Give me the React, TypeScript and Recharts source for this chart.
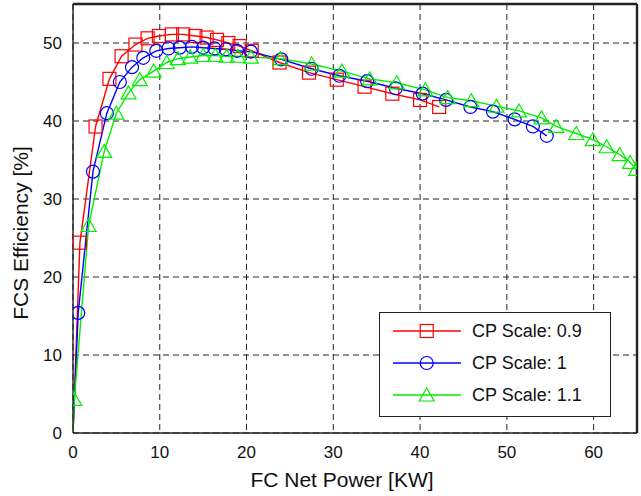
import React from 'react';
import { LineChart, Line, XAxis, YAxis, CartesianGrid, Legend, Label, ReferenceLine } from 'recharts';

const xTicks = [0, 10, 20, 30, 40, 50, 60];
const yTicks = [0, 10, 20, 30, 40, 50];
const xMax = 65;
const yMax = 55;

const cp09 = [
  { x: 0, y: 0 }, { x: 0.8, y: 24.4 }, { x: 2.6, y: 39.3 }, { x: 4.2, y: 45.4 }, { x: 5.6, y: 48.3 },
  { x: 7.2, y: 49.8 }, { x: 8.6, y: 50.6 }, { x: 9.9, y: 50.9 }, { x: 11.4, y: 51.1 }, { x: 12.7, y: 51.1 },
  { x: 14.1, y: 50.9 }, { x: 15.4, y: 50.7 }, { x: 16.6, y: 50.4 }, { x: 17.9, y: 50.0 }, { x: 19.2, y: 49.6 },
  { x: 20.6, y: 49.0 }, { x: 23.8, y: 47.5 }, { x: 27.2, y: 46.2 }, { x: 30.4, y: 45.3 }, { x: 33.6, y: 44.4 },
  { x: 36.8, y: 43.5 }, { x: 40.0, y: 42.7 }, { x: 42.2, y: 41.8 },
];

const cp10 = [
  { x: 0, y: 0 }, { x: 0.6, y: 15.4 }, { x: 2.3, y: 33.5 }, { x: 3.9, y: 41.0 }, { x: 5.4, y: 45.0 },
  { x: 6.8, y: 46.9 }, { x: 8.1, y: 48.1 }, { x: 9.6, y: 49.0 }, { x: 11.0, y: 49.3 }, { x: 12.3, y: 49.4 },
  { x: 13.7, y: 49.5 }, { x: 15.0, y: 49.4 }, { x: 16.3, y: 49.3 }, { x: 17.6, y: 49.2 }, { x: 18.9, y: 49.0 },
  { x: 20.5, y: 48.9 }, { x: 24.0, y: 47.9 }, { x: 27.5, y: 46.7 }, { x: 30.7, y: 45.8 }, { x: 33.9, y: 45.1 },
  { x: 37.2, y: 44.2 }, { x: 40.3, y: 43.5 }, { x: 43.0, y: 42.7 }, { x: 45.8, y: 41.8 }, { x: 48.4, y: 41.2 },
  { x: 50.9, y: 40.2 }, { x: 53.0, y: 39.3 }, { x: 54.6, y: 38.1 },
];

const cp11 = [
  { x: 0, y: 0 }, { x: 0.15, y: 4.3 }, { x: 1.8, y: 26.6 }, { x: 3.6, y: 36.1 }, { x: 5.0, y: 41.0 },
  { x: 6.4, y: 43.6 }, { x: 7.7, y: 45.3 }, { x: 9.3, y: 46.4 }, { x: 10.8, y: 47.5 }, { x: 12.1, y: 48.0 },
  { x: 13.5, y: 48.2 }, { x: 15.0, y: 48.4 }, { x: 16.4, y: 48.4 }, { x: 17.7, y: 48.3 }, { x: 19.0, y: 48.3 },
  { x: 20.5, y: 48.2 }, { x: 23.9, y: 48.0 }, { x: 27.5, y: 47.3 }, { x: 31.0, y: 46.4 }, { x: 34.2, y: 45.4 },
  { x: 37.3, y: 44.9 }, { x: 40.6, y: 44.0 }, { x: 43.2, y: 43.0 }, { x: 45.9, y: 42.6 }, { x: 48.8, y: 41.9 },
  { x: 51.4, y: 41.3 }, { x: 54.0, y: 40.4 }, { x: 55.7, y: 39.3 }, { x: 58.0, y: 38.4 }, { x: 59.9, y: 37.6 },
  { x: 61.5, y: 36.7 }, { x: 63.0, y: 35.7 }, { x: 64.2, y: 34.7 }, { x: 64.9, y: 33.8 },
];

const seriesNames = ['CP Scale: 0.9', 'CP Scale: 1', 'CP Scale: 1.1'];
const seriesColors = ['#ff0000', '#0000ff', '#00ee00'];
const seriesShapes = ['square', 'circle', 'triangle'];

const FONT = '"Liberation Sans", Arial, Helvetica, sans-serif';

function Marker({ shape, cx, cy, color }: { shape: string; cx: number; cy: number; color: string }) {
  if (shape === 'square') {
    return <rect x={cx - 6.5} y={cy - 6.5} width={13} height={13} fill="none" stroke={color} strokeWidth={1.2} />;
  }
  if (shape === 'circle') {
    return <circle cx={cx} cy={cy} r={6.5} fill="none" stroke={color} strokeWidth={1.2} />;
  }
  return (
    <polygon
      points={`${cx},${cy - 7} ${cx - 7.5},${cy + 6} ${cx + 7.5},${cy + 6}`}
      fill="none"
      stroke={color}
      strokeWidth={1.2}
    />
  );
}

const makeDot = (shape: string, color: string) => (props: any) => {
  const { cx, cy, index, payload } = props;
  if (payload && payload.x === 0 && payload.y === 0) return <g key={`e-${index}`} />;
  if (cx == null || cy == null) return <g key={`e-${index}`} />;
  return (
    <g key={`m-${index}`}>
      <Marker shape={shape} cx={cx} cy={cy} color={color} />
    </g>
  );
};

function LegendBox() {
  return (
    <div
      style={{
        width: 230,
        height: 101,
        border: '1px solid #222',
        background: '#fff',
        fontFamily: FONT,
        paddingTop: 2,
        boxSizing: 'content-box',
      }}
    >
      {seriesNames.map((n, i) => (
        <div key={n} style={{ display: 'flex', alignItems: 'center', height: 32 }}>
          <svg width={92} height={32} style={{ display: 'block' }}>
            <line x1={13} x2={81} y1={16} y2={16} stroke={seriesColors[i]} strokeWidth={1.4} />
            <Marker shape={seriesShapes[i]} cx={46.7} cy={16} color={seriesColors[i]} />
          </svg>
          <span style={{ fontSize: 18, color: '#111', lineHeight: '32px', whiteSpace: 'nowrap' }}>{n}</span>
        </div>
      ))}
    </div>
  );
}

const datasets = [cp09, cp10, cp11];
const AXIS = { stroke: '#222', strokeWidth: 1.4 };

export default function App() {
  return (
    <div style={{ width: 641, height: 496, background: '#fff', fontFamily: FONT, overflow: 'hidden' }}>
      <style>{'html,body{margin:0;padding:0;overflow:hidden;background:#fff;}'}</style>
      <LineChart width={641} height={496} margin={{ top: 4, right: 4, bottom: 0, left: 0 }}>
        <CartesianGrid stroke="#222" strokeDasharray="6 4" strokeWidth={1} />
        <XAxis
          type="number"
          dataKey="x"
          domain={[0, xMax]}
          ticks={xTicks}
          allowDataOverflow
          height={63}
          axisLine={AXIS}
          tickLine={false}
          tickSize={0}
          tickMargin={13}
          tick={{ fontSize: 17, fill: '#111', fontFamily: FONT }}
        >
          <Label
            content={() => (
              <text x={342} y={487} textAnchor="middle" fontSize={21} fill="#111" fontFamily={FONT}>
                FC Net Power [KW]
              </text>
            )}
          />
        </XAxis>
        <YAxis
          type="number"
          dataKey="y"
          domain={[0, yMax]}
          ticks={yTicks}
          allowDataOverflow
          width={73}
          axisLine={AXIS}
          tickLine={false}
          tickSize={0}
          tickMargin={11}
          tick={{ fontSize: 17, fill: '#111', fontFamily: FONT }}
        >
          <Label
            content={() => (
              <text
                x={28}
                y={233}
                textAnchor="middle"
                fontSize={21}
                fill="#111"
                fontFamily={FONT}
                transform="rotate(-90, 28, 233)"
              >
                FCS Efficiency [%]
              </text>
            )}
          />
        </YAxis>
        <ReferenceLine y={yMax} stroke="#222" strokeWidth={2.4} ifOverflow="visible" />
        <ReferenceLine x={xMax} stroke="#222" strokeWidth={2.4} ifOverflow="visible" />
        {datasets.map((d, i) => (
          <Line
            key={seriesNames[i]}
            data={d}
            dataKey="y"
            name={seriesNames[i]}
            type="linear"
            stroke={seriesColors[i]}
            strokeWidth={1.4}
            dot={makeDot(seriesShapes[i], seriesColors[i])}
            activeDot={false}
            isAnimationActive={false}
          />
        ))}
        <Legend
          layout="vertical"
          align="center"
          verticalAlign="middle"
          wrapperStyle={{ position: 'absolute', left: 379, top: 312, width: 232, height: 103 }}
          content={() => <LegendBox />}
        />
      </LineChart>
    </div>
  );
}
